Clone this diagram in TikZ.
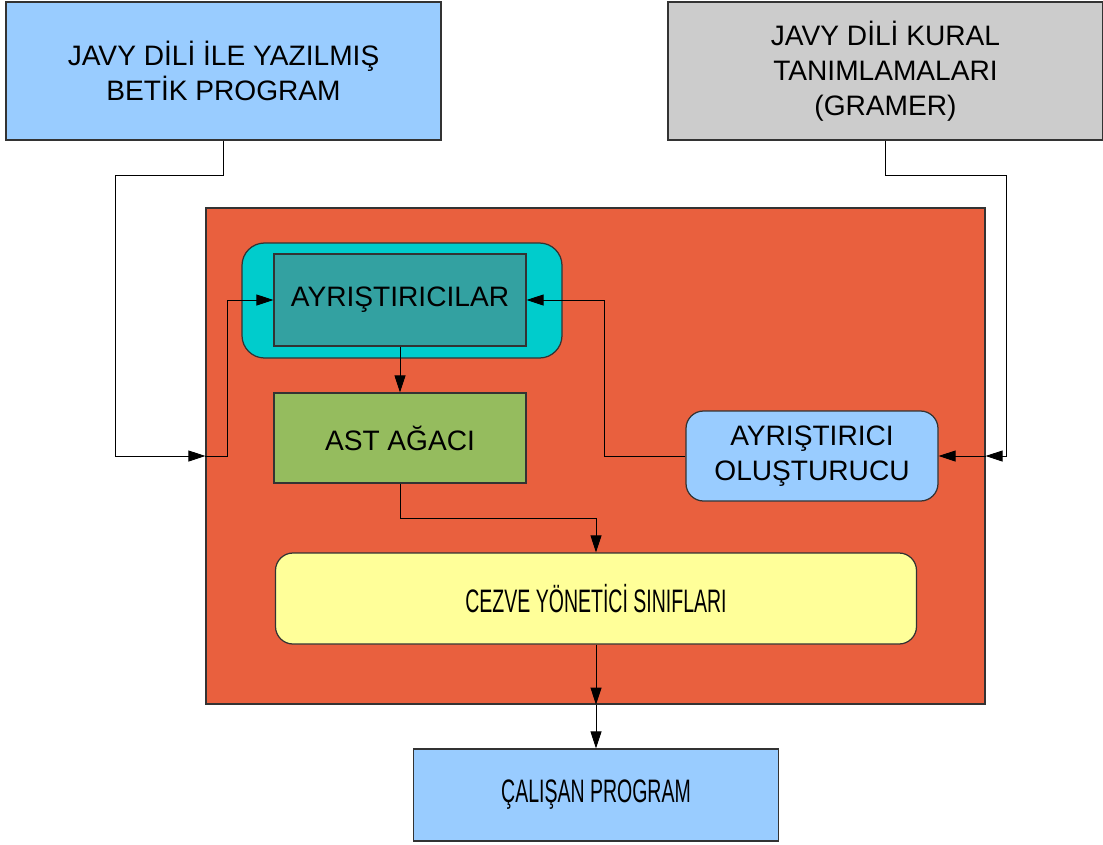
\documentclass[tikz,border=0pt]{standalone}
\usepackage{fontspec}
\setmainfont{Liberation Sans}
\newfontfamily\narrowfont{Liberation Sans}[FakeStretch=0.6]
\usepackage{xcolor}
\usepackage{tikz}
\usetikzlibrary{arrows.meta}

\definecolor{skyblue}{HTML}{99CCFF}
\definecolor{lightgrey}{HTML}{CCCCCC}
\definecolor{tomato}{HTML}{E9603E}
\definecolor{aqua}{HTML}{00CCCC}
\definecolor{teal}{HTML}{33A1A1}
\definecolor{leaf}{HTML}{95BC5E}
\definecolor{cream}{HTML}{FFFF99}

\tikzset{
  box/.style={draw=black!80, line width=0.7pt, align=center, inner sep=0pt,
    font=\fontsize{16}{20}\selectfont},
  roundbox/.style={box, rounded corners=0.35cm},
  narrow/.style={font=\narrowfont\fontsize{18.5}{20}\selectfont},
  arr/.style={-{Triangle[length=0.34cm,width=0.22cm]}, line width=0.5pt}
}

\begin{document}
\begin{tikzpicture}
    \useasboundingbox (0,0) rectangle (22.06,-16.88);

    \node[box, fill=skyblue, minimum width=8.7cm, minimum height=2.76cm]
      (src) at (4.47,-1.42) {JAVY DİLİ İLE YAZILMIŞ\\BETİK PROGRAM};
    \node[box, fill=lightgrey, minimum width=8.7cm, minimum height=2.76cm]
      (gram) at (17.71,-1.42) {JAVY DİLİ KURAL\\TANIMLAMALARI\\(GRAMER)};

    \node[box, fill=tomato, minimum width=15.58cm, minimum height=9.92cm]
      (frame) at (11.91,-9.12) {};
    \node[roundbox, fill=aqua, rounded corners=0.45cm,
      minimum width=6.4cm, minimum height=2.3cm] (group) at (8.04,-6.01) {};
    \node[box, fill=teal, minimum width=5.04cm, minimum height=1.84cm]
      (pars) at (8.0,-6.0) {AYRIŞTIRICILAR};
    \node[box, fill=leaf, minimum width=5.04cm, minimum height=1.8cm]
      (ast) at (8.0,-8.76) {AST AĞACI};
    \node[roundbox, fill=skyblue, minimum width=5.04cm, minimum height=1.8cm]
      (gen) at (16.24,-9.12) {AYRIŞTIRICI\\OLUŞTURUCU};
    \node[roundbox, narrow, fill=cream, minimum width=12.82cm, minimum height=1.82cm]
      (mgr) at (11.92,-11.97) {CEZVE YÖNETİCİ SINIFLARI};
    \node[box, narrow, fill=skyblue, minimum width=7.3cm, minimum height=1.84cm]
      (run) at (11.92,-15.9) {ÇALIŞAN PROGRAM};

    \coordinate (lbend) at (2.3,-3.5);
    \coordinate (rbend) at (20.12,-3.5);
    \coordinate (outB) at (mgr.south |- frame.south);

    \draw[arr] (src.south) |- (lbend) |- (frame.west);
    \draw[arr] (frame.west) -- ++(0.44,0) |- (pars.west);
    \draw[arr] (gram.south) |- (rbend) |- (frame.east);
    \draw[arr] (frame.east) -- (gen.east);
    \draw[arr] (gen.west) -- ++(-1.62,0) |- (pars.east);
    \draw[arr] (pars.south) -- (ast.north);
    \draw[arr] (ast.south) -- ++(0,-0.7) -| (mgr.north);
    \draw[arr] (mgr.south) -- (outB);
    \draw[arr] (outB) -- (run.north);
  \end{tikzpicture}
\end{document}
